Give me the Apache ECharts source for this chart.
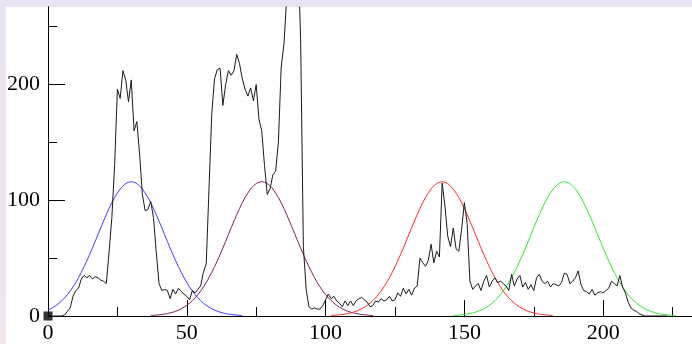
<!DOCTYPE html>
<html>
<head>
<meta charset="utf-8">
<script src="https://cdn.jsdelivr.net/npm/echarts@6/dist/echarts.min.js"></script>
<style>
  html, body { margin: 0; padding: 0; }
  body { width: 692px; height: 344px; overflow: hidden;
         background: linear-gradient(180deg, #e9e3f4 0%, #efe3f3 60%, #f6e4ee 100%); position: relative; }
  #paper { position: absolute; left: 6px; top: 7px; right: 0; bottom: 0; background: #ffffff; }
  #chart { position: absolute; left: 0; top: 0; width: 692px; height: 344px; }
</style>
</head>
<body>
<div id="paper"></div>
<div id="chart"></div>
<script>
// Histogram (black line): values at x = histStart, histStart+1, ...
const histStart = 0;
const histValues = [
  0, 0, 0, 0, 0, 0, 1, 4, 7, 17,            // 0-9
  22, 24, 32, 35, 33, 35, 32, 34, 33, 31,   // 10-19
  30, 28, 55, 85, 130, 196, 188, 212, 204, 185, // 20-29
  204, 160, 168, 140, 105, 91, 92, 99, 85, 55,  // 30-39
  28, 22, 23, 22, 15, 23, 19, 24, 21, 19,   // 40-49
  17, 14, 22, 20, 23, 26, 38, 45, 110, 175, // 50-59
  205, 213, 214, 182, 200, 212, 208, 212, 226, 218, // 60-69
  205, 196, 190, 197, 186, 200, 170, 160, 130, 105, // 70-79
  110, 122, 125, 150, 215, 235, 275, 330, 400, 380, // 80-89
  320, 240, 60, 23, 8, 6, 7, 6, 6, 9,        // 90-99
  14, 19, 15, 17, 13, 11, 8, 13, 9, 13,      // 100-109
  9, 13, 15, 16, 14, 12, 8, 9, 13, 12,       // 110-119
  15, 13, 14, 17, 13, 14, 20, 17, 24, 19,    // 120-129
  23, 18, 24, 26, 50, 46, 43, 48, 62, 46,    // 130-139
  56, 51, 115, 95, 69, 60, 76, 58, 56, 75,   // 140-149
  98, 80, 30, 23, 26, 28, 22, 30, 35, 25,    // 150-159
  30, 33, 29, 30, 28, 26, 22, 36, 26, 32,    // 160-169
  35, 25, 29, 23, 27, 22, 33, 36, 30, 28,    // 170-179
  30, 25, 28, 27, 26, 29, 37, 36, 28, 30,    // 180-189
  33, 39, 27, 22, 21, 19, 23, 18, 20, 21,    // 190-199
  20, 22, 24, 30, 28, 26, 35, 25, 20, 12,    // 200-209
  7, 5, 4, 2, 1, 0, 0, 0, 0, 0,              // 210-219
  0, 0, 0, 0                                  // 220-223
];

// Fitted curves, read every 2 units
const curveStep = 2;
const blueStart = 0;
const blueValues = [5.1, 7.6, 11.1, 15.7, 21.6, 28.9, 37.7, 47.7, 58.7, 70.4, 82.0, 92.9, 102.4, 109.7, 114.4,
  116, 114.4, 109.7, 102.4, 92.9, 82.0, 70.4, 58.7, 47.7, 37.7, 28.9, 21.6, 15.7, 11.1, 7.6, 5.1, 3.3, 2.1, 1.3, 0.8, 0.4];
const purpleStart = 37;
const purpleValues = [0.4, 0.8, 1.3, 2.1, 3.3, 5.1, 7.6, 11.1, 15.7, 21.6, 28.9, 37.7, 47.7, 58.7, 70.4, 82.0, 92.9, 102.4, 109.7, 114.4,
  116, 114.4, 109.7, 102.4, 92.9, 82.0, 70.4, 58.7, 47.7, 37.7, 28.9, 21.6, 15.7, 11.1, 7.6, 5.1, 3.3, 2.1, 1.3, 0.8, 0.4];
const redStart = 102;
const redValues = [0.4, 0.8, 1.3, 2.1, 3.3, 5.1, 7.6, 11.1, 15.7, 21.6, 28.9, 37.7, 47.7, 58.7, 70.4, 82.0, 92.9, 102.4, 109.7, 114.4,
  116, 114.4, 109.7, 102.4, 92.9, 82.0, 70.4, 58.7, 47.7, 37.7, 28.9, 21.6, 15.7, 11.1, 7.6, 5.1, 3.3, 2.1, 1.3, 0.8, 0.4];
const greenStart = 146;
const greenValues = [0.4, 0.8, 1.3, 2.1, 3.3, 5.1, 7.6, 11.1, 15.7, 21.6, 28.9, 37.7, 47.7, 58.7, 70.4, 82.0, 92.9, 102.4, 109.7, 114.4,
  116, 114.4, 109.7, 102.4, 92.9, 82.0, 70.4, 58.7, 47.7, 37.7, 28.9, 21.6, 15.7, 11.1, 7.6, 5.1, 3.3, 2.1, 1.3, 0.8, 0.4];

const originMarker = [[0, 0]];

// Axis ticks / labels
const xMajorTicks = [0, 50, 100, 150, 200];
const xMinorTicks = [25, 75, 125, 175, 225];
const yMajorTicks = [0, 100, 200];
const yMinorTicks = [50, 150, 250];

function pairs(start, step, vals) {
  return vals.map((v, i) => [start + i * step, v]);
}

const chart = echarts.init(document.getElementById('chart'), null, { renderer: 'canvas' });
const font = { fontFamily: 'Liberation Serif', fontSize: 22, color: '#000' };
const lineStyleAxis = { color: '#000', width: 1 };

function xAx(ticks, len, labels) {
  return {
    type: 'value', min: 0, max: 232, position: 'bottom', gridIndex: 0,
    axisLine: { show: true, lineStyle: lineStyleAxis, onZero: false },
    axisTick: { show: true, inside: true, length: len, customValues: ticks, lineStyle: lineStyleAxis },
    axisLabel: labels ? Object.assign({ show: true, margin: 6, customValues: ticks }, font) : { show: false },
    splitLine: { show: false }
  };
}
function yAx(ticks, len, labels) {
  return {
    type: 'value', min: 0, max: 267, position: 'left', gridIndex: 0,
    axisLine: { show: true, lineStyle: lineStyleAxis, onZero: false },
    axisTick: { show: true, inside: true, length: len, customValues: ticks, lineStyle: lineStyleAxis },
    axisLabel: labels ? Object.assign({ show: true, margin: 8, customValues: ticks }, font) : { show: false },
    splitLine: { show: false }
  };
}

function curve(name, color, start, vals) {
  return {
    name, type: 'line', xAxisIndex: 0, yAxisIndex: 0, showSymbol: false, symbol: 'none',
    data: pairs(start, curveStep, vals), smooth: 0.3,
    lineStyle: { color, width: 1 }, z: 2
  };
}

chart.setOption({
  animation: false,
  backgroundColor: 'transparent',
  grid: { left: 48, right: 0, top: 7, bottom: 27, containLabel: false },
  xAxis: [xAx(xMajorTicks, 16, true), xAx(xMinorTicks, 9, false)],
  yAxis: [yAx(yMajorTicks, 17, true), yAx(yMinorTicks, 9, false)],
  series: [
    curve('blue', '#3b3bff', blueStart, blueValues),
    curve('purple', '#7d1f62', purpleStart, purpleValues),
    curve('red', '#ff2a2a', redStart, redValues),
    curve('green', '#2ee82e', greenStart, greenValues),
    {
      name: 'hist', type: 'line', xAxisIndex: 0, yAxisIndex: 0, showSymbol: false, symbol: 'none',
      data: pairs(histStart, 1, histValues),
      lineStyle: { color: '#1a1a1a', width: 1 }, z: 3, clip: true
    },
    {
      name: 'origin', type: 'scatter', xAxisIndex: 0, yAxisIndex: 0,
      data: originMarker, symbol: 'rect', symbolSize: 9, clip: false,
      itemStyle: { color: '#000' }, z: 5
    }
  ]
});
</script>
</body>
</html>
